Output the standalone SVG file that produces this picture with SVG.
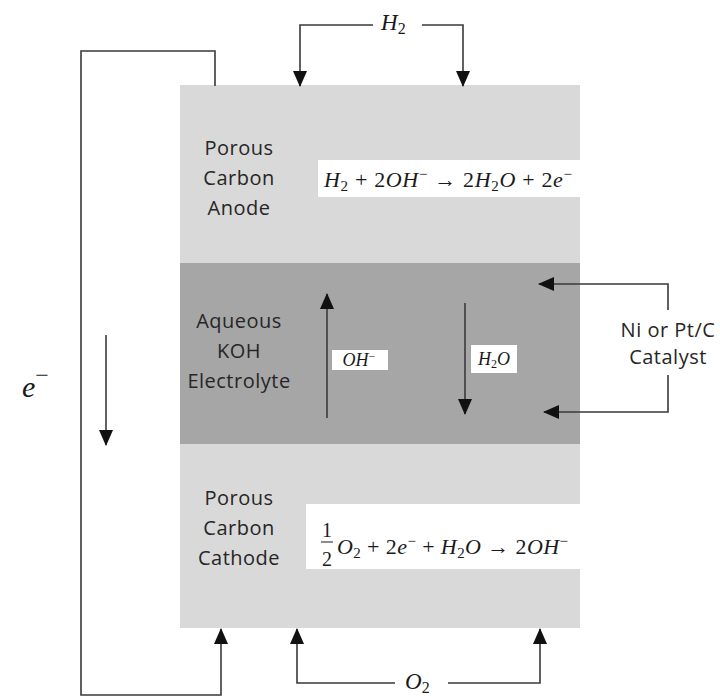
<svg xmlns="http://www.w3.org/2000/svg" width="720" height="696" viewBox="0 0 720 696">
<style>
.lbl{font-family:"Open Sans","Liberation Sans",sans-serif;font-size:20px;fill:#262626;text-anchor:middle;letter-spacing:0.5px}
.math{font-family:"Liberation Serif","DejaVu Serif",serif;fill:#1a1a1a}
.it{font-style:italic}
.wire{fill:none;stroke:#3a3a3a;stroke-width:1.6}
</style>
<defs>
<marker id="ah" markerUnits="userSpaceOnUse" markerWidth="16" markerHeight="14" refX="15" refY="7" orient="auto">
<path d="M0,0 L16,7 L0,14 Z" fill="#111"/>
</marker>
</defs>
<rect width="720" height="696" fill="#fff"/>

<g id="anode">
<rect x="180" y="85" width="400" height="178" fill="#d9d9d9"/>
<text class="lbl" x="239" y="155">Porous</text>
<text class="lbl" x="239" y="185">Carbon</text>
<text class="lbl" x="239" y="215">Anode</text>
<rect x="318" y="160" width="262" height="37" fill="#fff"/>
<text class="math" x="324" y="187" font-size="22" textLength="248" lengthAdjust="spacing"><tspan class="it">H</tspan><tspan font-size="15" dy="4">2</tspan><tspan dy="-4"> + 2</tspan><tspan class="it">OH</tspan><tspan font-size="15" dy="-8">−</tspan><tspan dy="8"> → 2</tspan><tspan class="it">H</tspan><tspan font-size="15" dy="4">2</tspan><tspan class="it" dy="-4">O</tspan><tspan> + 2</tspan><tspan class="it">e</tspan><tspan font-size="15" dy="-8">−</tspan></text>
</g>

<g id="electrolyte">
<rect x="180" y="263" width="400" height="181" fill="#a6a6a6"/>
<text class="lbl" x="239" y="328">Aqueous</text>
<text class="lbl" x="239" y="358">KOH</text>
<text class="lbl" x="239" y="388">Electrolyte</text>
<rect x="332" y="350" width="56" height="20" fill="#fff"/>
<text class="math it" x="359" y="366" font-size="18" text-anchor="middle">OH<tspan font-size="12" dy="-6" font-style="normal">−</tspan></text>
<rect x="471" y="345" width="46" height="28" fill="#fff"/>
<text class="math it" x="494" y="365" font-size="18" text-anchor="middle">H<tspan font-size="12" dy="3" font-style="normal">2</tspan><tspan dy="-3">O</tspan></text>
</g>

<g id="cathode">
<rect x="180" y="444" width="400" height="184" fill="#d9d9d9"/>
<text class="lbl" x="239" y="505">Porous</text>
<text class="lbl" x="239" y="535">Carbon</text>
<text class="lbl" x="239" y="565">Cathode</text>
<rect x="306" y="504" width="274" height="65" fill="#fff"/>
<text class="math" x="327" y="537" font-size="20" text-anchor="middle">1</text>
<line x1="321" y1="542" x2="333" y2="542" stroke="#1a1a1a" stroke-width="1"/>
<text class="math" x="327" y="566" font-size="20" text-anchor="middle">2</text>
<text class="math" x="337" y="554" font-size="22" textLength="231" lengthAdjust="spacing"><tspan class="it">O</tspan><tspan font-size="15" dy="4">2</tspan><tspan dy="-4"> + 2</tspan><tspan class="it">e</tspan><tspan font-size="15" dy="-8">−</tspan><tspan dy="8"> + </tspan><tspan class="it">H</tspan><tspan font-size="15" dy="4">2</tspan><tspan class="it" dy="-4">O</tspan><tspan> → 2</tspan><tspan class="it">OH</tspan><tspan font-size="15" dy="-8">−</tspan></text>
</g>

<g id="h2-label">
<text class="math it" x="381" y="30" font-size="23">H<tspan font-size="16" dy="4" font-style="normal">2</tspan></text>
</g>
<g id="o2-label">
<text class="math it" x="405" y="689" font-size="23">O<tspan font-size="16" dy="4" font-style="normal">2</tspan></text>
</g>
<g id="electron-label">
<text class="math it" x="22" y="397" font-size="30">e<tspan font-size="24" dy="-14" font-style="normal">−</tspan></text>
</g>
<g id="catalyst-label">
<text class="lbl" x="668" y="337">Ni or Pt/C</text>
<text class="lbl" x="668" y="364">Catalyst</text>
</g>

<g id="connectors">
<path class="wire" d="M373,25 H300 V86" marker-end="url(#ah)"/>
<path class="wire" d="M422,25 H463 V86" marker-end="url(#ah)"/>
<path class="wire" d="M395,683 H297 V629" marker-end="url(#ah)"/>
<path class="wire" d="M448,683 H540 V629" marker-end="url(#ah)"/>
<path class="wire" d="M215,86 V51 H81 V695 H221 V629" marker-end="url(#ah)"/>
<path class="wire" d="M106,335 V445" marker-end="url(#ah)"/>
<path class="wire" d="M327,418 V294" marker-end="url(#ah)"/>
<path class="wire" d="M465,303 V414" marker-end="url(#ah)"/>
<path class="wire" d="M668,310 V284 H539" marker-end="url(#ah)"/>
<path class="wire" d="M668,375 V412 H544" marker-end="url(#ah)"/>
</g>
</svg>
